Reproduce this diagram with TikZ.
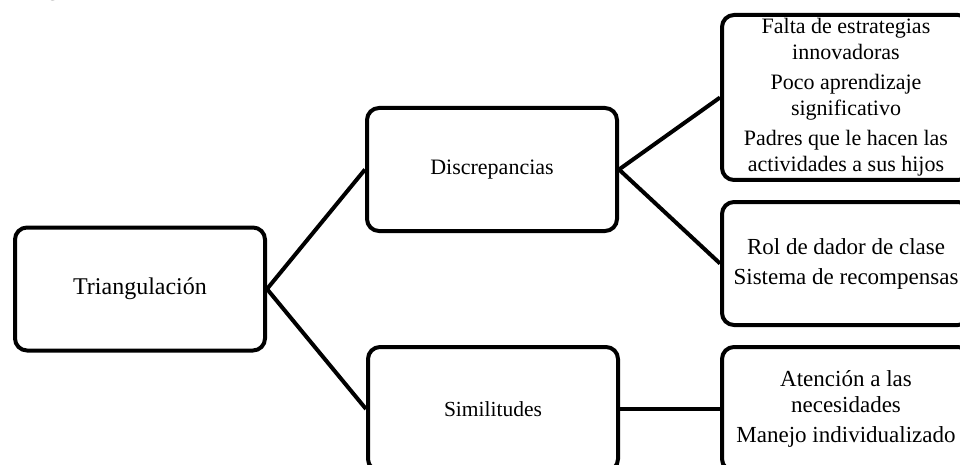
\documentclass[tikz,border=0pt]{standalone}
\usepackage{fontspec}
\setmainfont{Liberation Serif}
\tikzset{box/.style={rectangle,rounded corners=12pt,draw,line width=4pt,minimum width=250pt,minimum height=123pt,align=center,inner sep=0pt,font=\fontsize{22}{26}\selectfont}}
\tikzset{link/.style={line width=4pt}}

\begin{document}
\begin{tikzpicture}[x=1pt,y=-1pt]
    \useasboundingbox (0,0) rectangle (960,465);
    \clip (0,0) rectangle (960,465);
    \node[anchor=base west,inner sep=0pt,font=\fontsize{24}{28}\selectfont] (cap) at (3,-4) {triangulación”.};
    \node[box,font=\fontsize{24}{28}\selectfont] (tri) at (140,289) {Triangulación};
    \node[box] (dis) at (492,169.5) {Discrepancias};
    \node[box,minimum height=124pt,font=\fontsize{21.5}{26}\selectfont] (sim) at (493,409) {Similitudes};
    \node[box,minimum width=248pt,minimum height=165pt,text depth=6pt] (fal) at (846,97.5) {Falta de estrategias\\innovadoras\\[4pt]Poco aprendizaje\\significativo\\[4pt]Padres que le hacen las\\actividades a sus hijos};
    \node[box,minimum width=248pt,font=\fontsize{23}{26}\selectfont] (rol) at (846,263.5) {Rol de dador de clase\\[4pt]Sistema de recompensas};
    \node[box,minimum width=248pt,minimum height=124pt,font=\fontsize{23}{26}\selectfont] (ate) at (846,409) {Atención a las\\necesidades\\[4pt]Manejo individualizado};
    \draw[link] (tri.east) -- (dis.west);
    \draw[link] (tri.east) -- (sim.west);
    \draw[link] (dis.east) -- (fal.west);
    \draw[link] (dis.east) -- (rol.west);
    \draw[link] (sim.east) -- (ate.west);
\end{tikzpicture}
\end{document}
